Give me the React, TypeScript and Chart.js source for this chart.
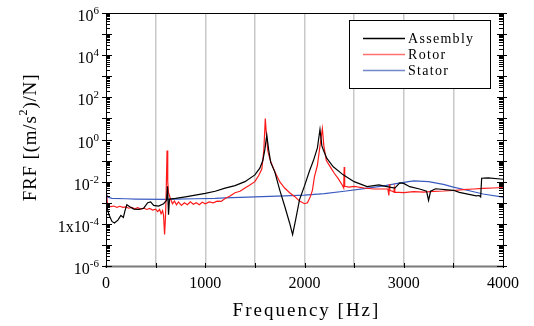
import React, { useEffect, useRef } from "react";
import { Chart, registerables } from "chart.js";

Chart.register(...registerables);

// ---------- DATA ----------
const assemblyFreq = [0, 15, 30, 60, 85, 120, 150, 175, 190, 210, 240, 280, 330, 380, 420, 450, 480, 530, 580, 610, 620, 630, 640, 700, 800, 900, 1000, 1100, 1200, 1300, 1400, 1500, 1550, 1580, 1600, 1620, 1640, 1660, 1700, 1750, 1800, 1850, 1880, 1910, 1950, 2000, 2050, 2090, 2130, 2156, 2175, 2190, 2224, 2290, 2390, 2500, 2630, 2750, 2830, 2910, 2960, 3000, 3060, 3160, 3230, 3250, 3270, 3320, 3500, 3560, 3730, 3760, 3775, 3785, 3850, 4000];
const assemblyVal = [1.4e-3, 5e-4, 2.7e-4, 1.3e-4, 1.1e-4, 1.5e-4, 2.5e-4, 2.0e-4, 4e-4, 8e-4, 6.5e-4, 5e-4, 4.8e-4, 5.5e-4, 1.0e-3, 1.1e-3, 7.5e-4, 7e-4, 9e-4, 1.3e-3, 6e-3, 2.7e-4, 1.5e-3, 1.6e-3, 1.9e-3, 2.3e-3, 2.8e-3, 3.5e-3, 4.9e-3, 6.5e-3, 1.0e-2, 2.1e-2, 4.4e-2, 1.0e-1, 3.2e-1, 1.6, 3e-1, 8e-2, 3.0e-2, 4.1e-3, 7e-4, 1.1e-4, 3.1e-5, 1.5e-4, 1.4e-3, 6.3e-3, 3.2e-2, 1.0e-1, 4e-1, 3.0, 5e-1, 3.2e-1, 1.3e-1, 5.1e-2, 2.1e-2, 1.0e-2, 5.8e-3, 7e-3, 5.8e-3, 4.9e-3, 8.7e-3, 8.3e-3, 5.8e-3, 4.5e-3, 3.5e-3, 1.3e-3, 3.5e-3, 4.6e-3, 3.9e-3, 3.1e-3, 2.1e-3, 2.2e-3, 1.9e-3, 1.45e-2, 1.5e-2, 1.3e-2];

const rotorFreq = [0, 3, 6, 15, 30, 50, 80, 110, 140, 170, 200, 230, 260, 290, 320, 350, 380, 410, 440, 470, 500, 520, 540, 555, 570, 580, 590, 598, 605, 615, 622, 630, 650, 670, 690, 710, 730, 760, 790, 820, 850, 880, 910, 940, 970, 1000, 1040, 1080, 1120, 1160, 1200, 1250, 1300, 1350, 1400, 1450, 1500, 1540, 1570, 1590, 1605, 1615, 1630, 1650, 1700, 1750, 1800, 1850, 1900, 1950, 2000, 2030, 2060, 2080, 2100, 2130, 2150, 2170, 2180, 2195, 2220, 2260, 2300, 2340, 2380, 2395, 2400, 2405, 2450, 2500, 2600, 2700, 2840, 2850, 2855, 2860, 2880, 2900, 2905, 2910, 3000, 3100, 3200, 3300, 3400, 3500, 3600, 3700, 3800, 3900, 4000];
const rotorVal = [2e-3, 1.5e-4, 2.5e-3, 8e-4, 7e-4, 6.5e-4, 7e-4, 6e-4, 6.8e-4, 6e-4, 6.3e-4, 5.5e-4, 6e-4, 5.2e-4, 5.8e-4, 5e-4, 5.6e-4, 4.8e-4, 5.4e-4, 4.5e-4, 5e-4, 3.8e-4, 4.8e-4, 3e-4, 4.2e-4, 2.5e-4, 3.1e-5, 1.5e-4, 1.5e-3, 3e-1, 1e-2, 3e-3, 1.5e-3, 9e-4, 1.2e-3, 8e-4, 1.1e-3, 7.5e-4, 1.0e-3, 8e-4, 1.1e-3, 8.5e-4, 1.0e-3, 8e-4, 1.05e-3, 9e-4, 1.1e-3, 1.0e-3, 1.2e-3, 1.15e-3, 1.6e-3, 2.1e-3, 3e-3, 3.5e-3, 5e-3, 7e-3, 1.0e-2, 2.0e-2, 4e-2, 3e-1, 1.0e1, 2, 3e-1, 1.2e-1, 3.0e-2, 1.0e-2, 5e-3, 3e-3, 2e-3, 1.2e-3, 9e-4, 1.0e-3, 2e-3, 4e-3, 1.7e-2, 6e-2, 3e-1, 1.5, 3.3, 5e-1, 1.0e-1, 5e-2, 2.5e-2, 1.4e-2, 7e-3, 5e-3, 5e-2, 6e-3, 5.5e-3, 6e-3, 5e-3, 4.5e-3, 4.5e-3, 2.2e-3, 7.5e-3, 3.8e-3, 3.6e-3, 3.2e-3, 5e-3, 3.2e-3, 3.0e-3, 3.4e-3, 3.2e-3, 3.5e-3, 3.6e-3, 3.8e-3, 4.2e-3, 4.5e-3, 4.8e-3, 5.0e-3, 5.3e-3];

const statorFreq = [0, 5, 10, 20, 60, 200, 300, 600, 700, 900, 1100, 1200, 1500, 1800, 2000, 2200, 2400, 2600, 2800, 2950, 3100, 3250, 3400, 3500, 3650, 3800, 4000];
const statorVal = [1.9e-3, 1.3e-3, 2.4e-3, 1.8e-3, 1.6e-3, 1.55e-3, 1.5e-3, 1.45e-3, 1.5e-3, 1.55e-3, 1.6e-3, 1.7e-3, 1.9e-3, 2.1e-3, 2.3e-3, 2.7e-3, 3.5e-3, 4.7e-3, 6.3e-3, 8.5e-3, 1.1e-2, 1.0e-2, 7.5e-3, 5.5e-3, 3.8e-3, 2.6e-3, 1.85e-3];

const seriesNames = ["Assembly", "Rotor", "Stator"];
const seriesColors = ["#000000", "#ff1a1a", "#3a5bc0"];
const legendLineColors = ["#000000", "#ff7070", "#7388cc"];

const xTickValues = [0, 1000, 2000, 3000, 4000];
const yTickExponents = [-6, -4, -2, 0, 2, 4, 6];
const xTitle = "Frequency [Hz]";

const SERIF = "'Liberation Serif', 'Times New Roman', serif";

function toPoints(f: number[], v: number[]) {
  return f.map((x, i) => ({ x, y: v[i] }));
}

const framePlugin = {
  id: "framePlugin",
  afterDraw(chart: any) {
    const ctx = chart.ctx as CanvasRenderingContext2D;
    const { left, right, top, bottom } = chart.chartArea;
    const ys = chart.scales.y;
    const xs = chart.scales.x;
    ctx.save();
    // frame
    ctx.strokeStyle = "#000";
    ctx.lineWidth = 1;
    ctx.beginPath();
    ctx.moveTo(left, top + 0.5);
    ctx.lineTo(right, top + 0.5);
    ctx.moveTo(left + 0.5, top);
    ctx.lineTo(left + 0.5, bottom);
    ctx.moveTo(right + 0.5, top);
    ctx.lineTo(right + 0.5, bottom);
    ctx.stroke();
    ctx.strokeStyle = "#7a7a7a";
    ctx.lineWidth = 2;
    ctx.beginPath();
    ctx.moveTo(left - 1, bottom + 0.5);
    ctx.lineTo(right + 1, bottom + 0.5);
    ctx.stroke();

    // y ticks (log)
    ctx.strokeStyle = "#000";
    ctx.lineWidth = 1;
    ctx.beginPath();
    for (let n = -6; n <= 6; n++) {
      for (let m = 1; m <= 9; m++) {
        const v = m * Math.pow(10, n);
        if (v > 1e6 * 1.0001) break;
        const y = Math.round(ys.getPixelForValue(v)) + 0.5;
        if (m === 1) {
          ctx.moveTo(left - 4, y);
          ctx.lineTo(left + 6, y);
          ctx.moveTo(right - 6, y);
          ctx.lineTo(right + 4, y);
        } else {
          ctx.moveTo(left, y);
          ctx.lineTo(left + 4, y);
          ctx.moveTo(right - 4, y);
          ctx.lineTo(right, y);
        }
      }
    }
    ctx.stroke();

    // x minor ticks
    ctx.beginPath();
    for (let v = 0; v <= 4000; v += 500) {
      const x = Math.round(xs.getPixelForValue(v)) + 0.5;
      ctx.moveTo(x, bottom - 3);
      ctx.lineTo(x, bottom + 2);
    }
    ctx.stroke();

    // y tick labels
    ctx.fillStyle = "#000";
    ctx.textBaseline = "alphabetic";
    ctx.textAlign = "left";
    for (const e of yTickExponents) {
      const y = ys.getPixelForValue(Math.pow(10, e));
      const base = e === -4 ? "1x10" : "10";
      const sup = String(e);
      ctx.font = `11px ${SERIF}`;
      const sw = ctx.measureText(sup).width;
      ctx.font = `16px ${SERIF}`;
      const bw = ctx.measureText(base).width;
      const endX = left - 7;
      ctx.fillText(base, endX - sw - bw, y + 8);
      ctx.font = `11px ${SERIF}`;
      ctx.fillText(sup, endX - sw, y + 1);
    }

    // x tick labels
    ctx.font = `16px ${SERIF}`;
    ctx.textAlign = "center";
    for (const v of xTickValues) {
      const x = xs.getPixelForValue(v);
      ctx.fillText(String(v), x, bottom + 22);
    }

    // x title
    ctx.font = `19px ${SERIF}`;
    (ctx as any).letterSpacing = "2px";
    ctx.textAlign = "center";
    ctx.fillText(xTitle, (left + right) / 2 + 2, 316);
    (ctx as any).letterSpacing = "0px";

    // y title (rotated)
    ctx.save();
    ctx.translate(36, (top + bottom) / 2 - 2);
    ctx.rotate(-Math.PI / 2);
    const p1 = "FRF [(m/s";
    const p2 = "2";
    const p3 = ")/N]";
    (ctx as any).letterSpacing = "0.8px";
    ctx.font = `19px ${SERIF}`;
    const w1 = ctx.measureText(p1).width;
    const w3 = ctx.measureText(p3).width;
    ctx.font = `12px ${SERIF}`;
    const w2 = ctx.measureText(p2).width;
    const total = w1 + w2 + w3;
    let cx = -total / 2;
    ctx.textAlign = "left";
    ctx.font = `19px ${SERIF}`;
    ctx.fillText(p1, cx, 0);
    cx += w1;
    ctx.font = `12px ${SERIF}`;
    ctx.fillText(p2, cx, -9);
    cx += w2;
    ctx.font = `19px ${SERIF}`;
    ctx.fillText(p3, cx, 0);
    (ctx as any).letterSpacing = "0px";
    ctx.restore();

    // legend
    const lx = 349, ly = 20, lw = 141, lh = 68;
    ctx.fillStyle = "#fff";
    ctx.fillRect(lx, ly, lw, lh);
    ctx.strokeStyle = "#000";
    ctx.lineWidth = 1;
    ctx.strokeRect(lx + 0.5, ly + 0.5, lw, lh);
    const rows = [38, 54, 70];
    ctx.font = `14px ${SERIF}`;
    (ctx as any).letterSpacing = "1.3px";
    ctx.textAlign = "left";
    ctx.textBaseline = "middle";
    for (let i = 0; i < seriesNames.length; i++) {
      ctx.strokeStyle = legendLineColors[i];
      ctx.lineWidth = 1.3;
      ctx.beginPath();
      ctx.moveTo(363, rows[i] + 0.5);
      ctx.lineTo(405, rows[i] + 0.5);
      ctx.stroke();
      ctx.fillStyle = "#000";
      ctx.fillText(seriesNames[i], 408, rows[i] + 1);
    }
    (ctx as any).letterSpacing = "0px";
    ctx.restore();
  },
};

export default function App() {
  const ref = useRef<HTMLCanvasElement | null>(null);
  useEffect(() => {
    if (!ref.current) return;
    const chart = new Chart(ref.current, {
      type: "line",
      data: {
        datasets: [
          { label: seriesNames[0], data: toPoints(assemblyFreq, assemblyVal), borderColor: seriesColors[0], borderWidth: 1.2, pointRadius: 0, tension: 0 },
          { label: seriesNames[1], data: toPoints(rotorFreq, rotorVal), borderColor: seriesColors[1], borderWidth: 1.2, pointRadius: 0, tension: 0 },
          { label: seriesNames[2], data: toPoints(statorFreq, statorVal), borderColor: seriesColors[2], borderWidth: 1.2, pointRadius: 0, tension: 0 },
        ],
      },
      options: {
        animation: false,
        responsive: false,
        maintainAspectRatio: false,
        layout: { padding: { top: 13, right: 31, left: 0, bottom: 0 } },
        plugins: { legend: { display: false }, tooltip: { enabled: false } },
        scales: {
          x: {
            type: "linear",
            min: 0,
            max: 4000,
            ticks: { stepSize: 500, display: false },
            border: { display: false },
            grid: {
              drawTicks: false,
              lineWidth: 1.5,
              color: (c: any) => (c.tick && (c.tick.value === 0 || c.tick.value === 4000) ? "rgba(0,0,0,0)" : "#c8c8c8"),
            },
            afterFit: (s: any) => { s.height = 60; },
          },
          y: {
            type: "logarithmic",
            min: 1e-6,
            max: 1e6,
            ticks: { display: false },
            grid: { display: false },
            border: { display: false },
            afterFit: (s: any) => { s.width = 106; },
          },
        },
      },
      plugins: [framePlugin],
    });
    return () => chart.destroy();
  }, []);
  return (
    <div style={{ position: "fixed", left: 0, top: 0, width: 534, height: 326, background: "#fff" }}>
      <canvas ref={ref} width={534} height={326} style={{ display: "block", width: 534, height: 326 }} />
    </div>
  );
}
